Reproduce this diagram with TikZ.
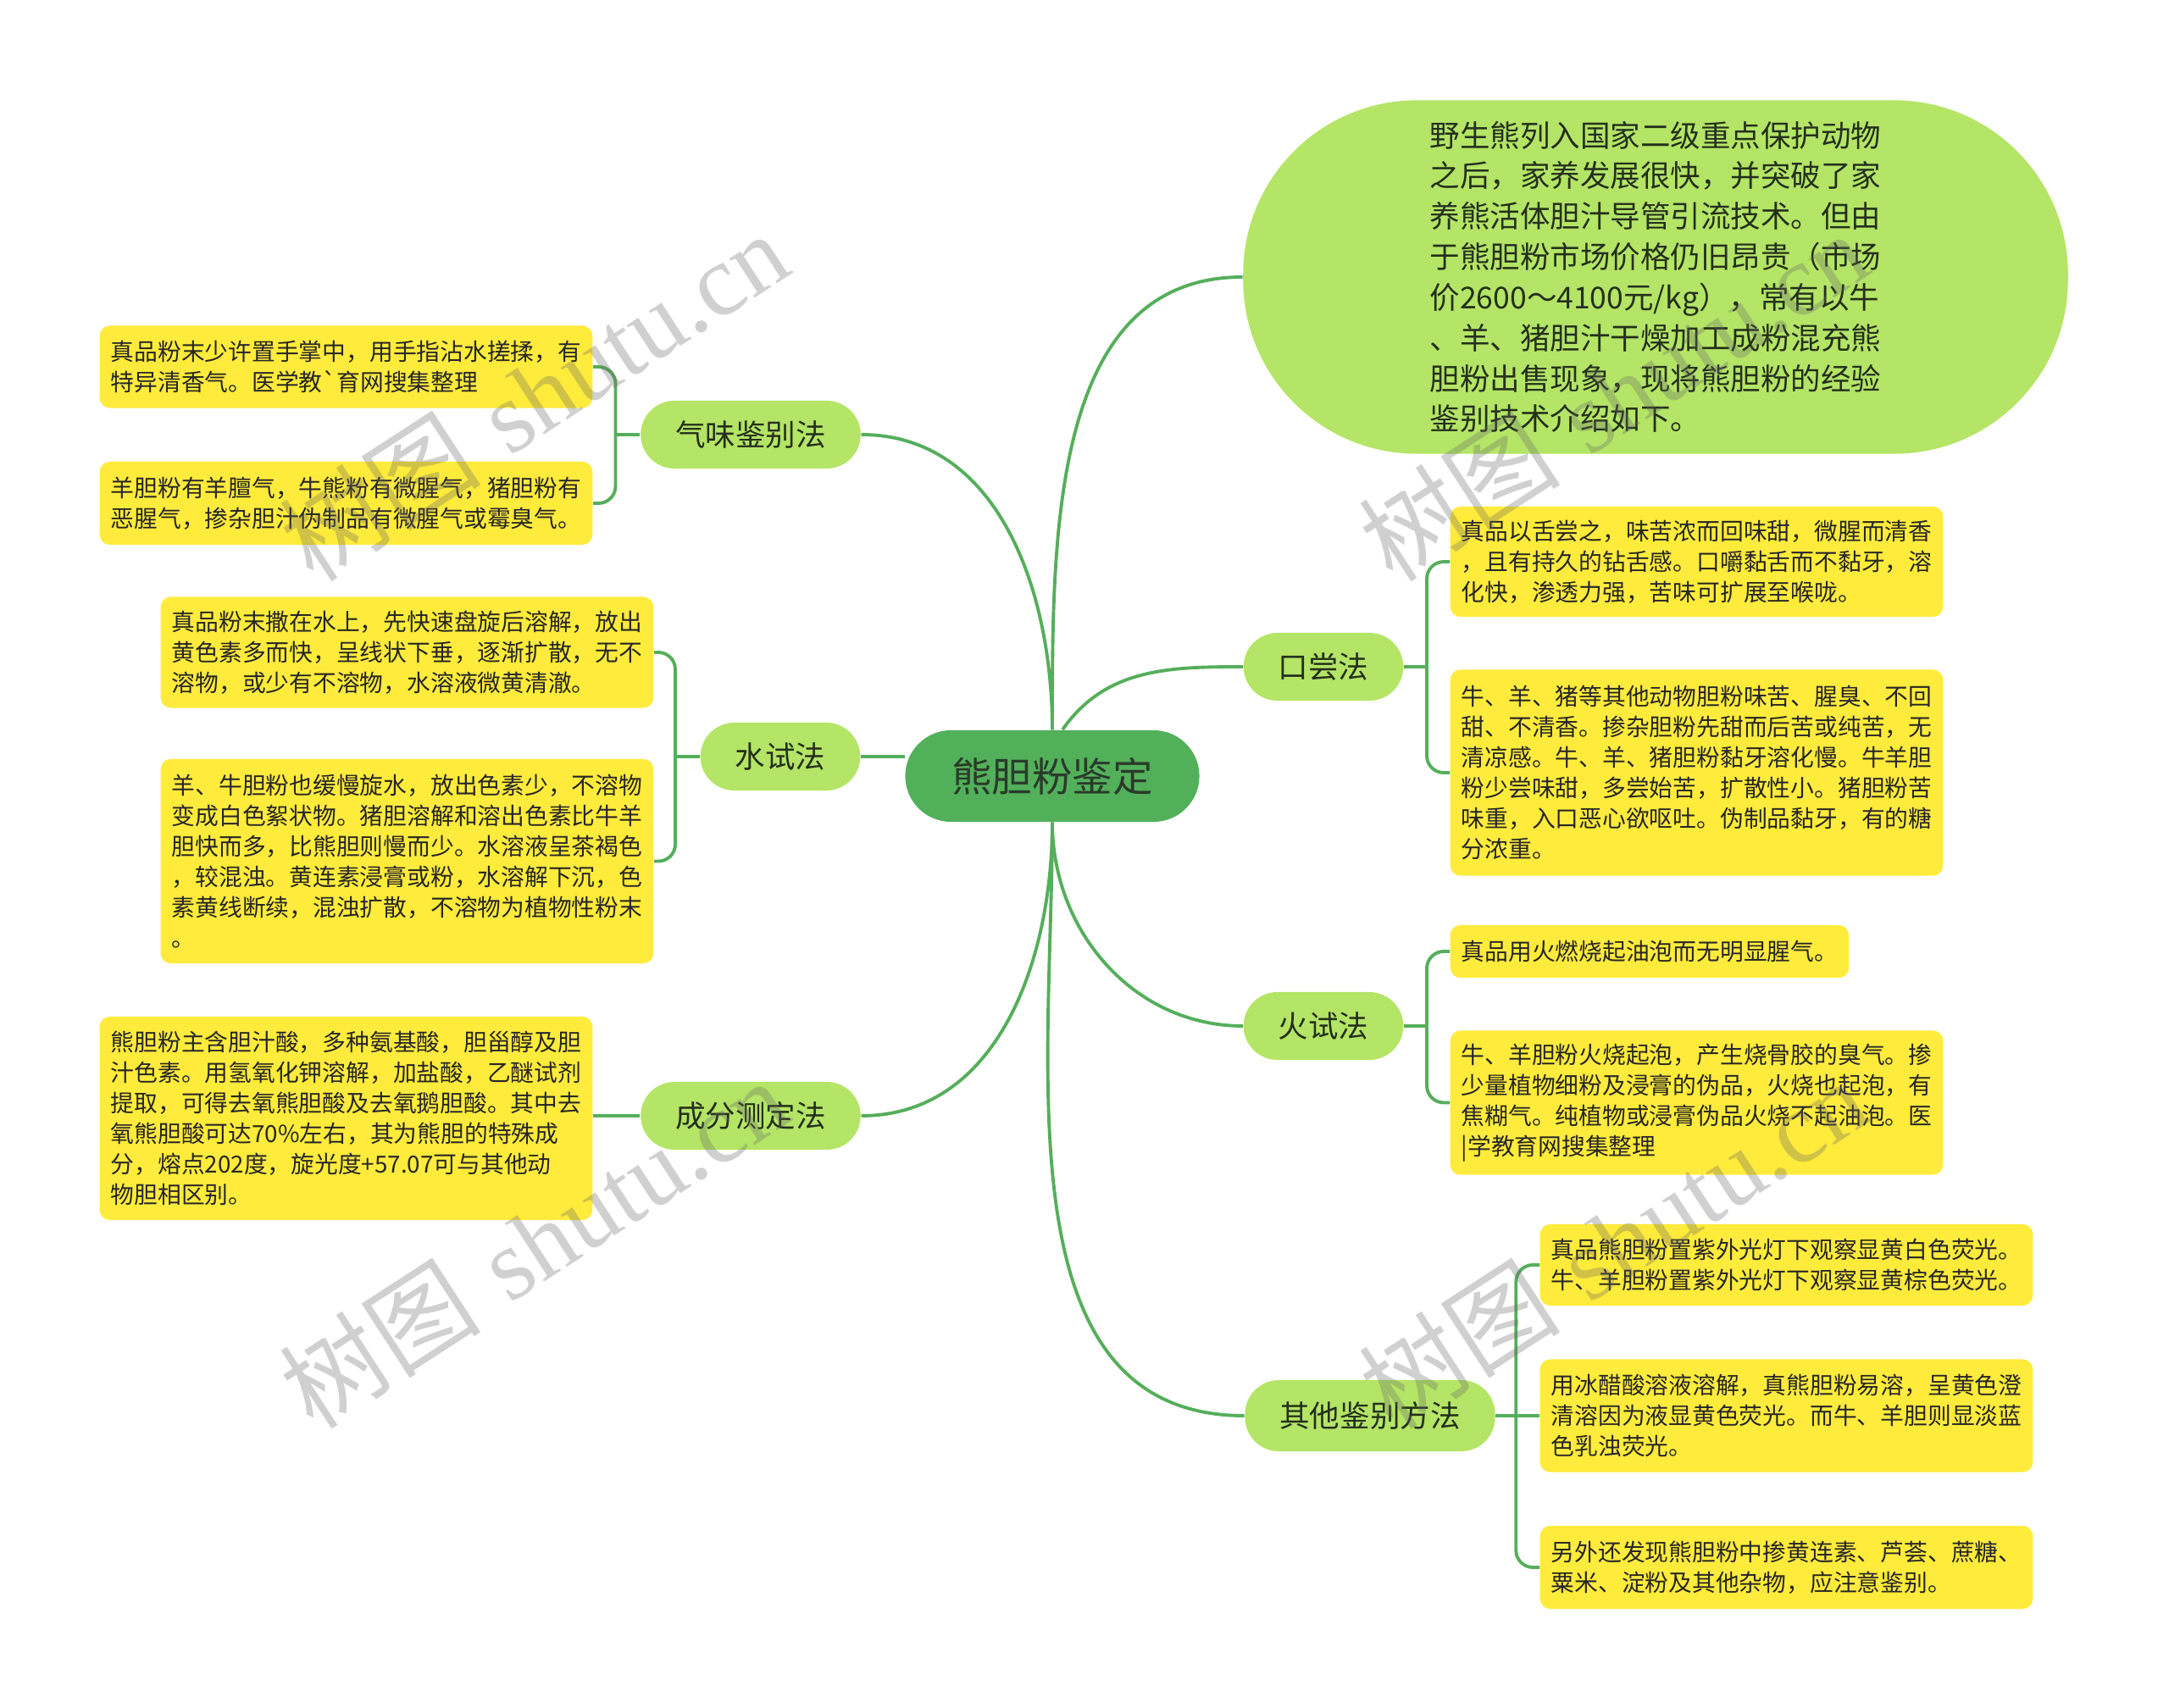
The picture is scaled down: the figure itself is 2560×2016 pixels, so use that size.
\documentclass[tikz,border=0pt]{standalone}
\usepackage{fontspec}
\newfontfamily\cjk{Noto Sans CJK SC}
\newfontfamily\wmserif{Liberation Serif}
\usetikzlibrary{positioning,calc}
\definecolor{rootgreen}{HTML}{52B05A}
\definecolor{topicgreen}{HTML}{B4E566}
\definecolor{leafyellow}{HTML}{FFEB3B}
\definecolor{linegreen}{HTML}{55AE5B}
\definecolor{inkroot}{HTML}{2A3A2A}
\definecolor{inktopic}{HTML}{25301C}
\definecolor{inkleaf}{HTML}{262626}
\tikzset{
  rootnode/.style={fill=rootgreen,rounded corners=0.54cm,minimum width=3.47cm,
            minimum height=1.08cm,font=\cjk\fontsize{13.5}{16}\selectfont,text=inkroot},
  topicnode/.style={fill=topicgreen,rounded corners=0.4cm,minimum height=0.8cm,
            inner xsep=0.41cm,font=\cjk\fontsize{10.1}{12}\selectfont,text=inktopic},
  introbox/.style={fill=topicgreen,rounded corners=2.05cm,minimum width=9.73cm,
            minimum height=4.17cm,align=left,font=\cjk\fontsize{10.1}{13.6}\selectfont,text=inktopic},
  leafbox/.style={fill=leafyellow,rounded corners=0.12cm,inner xsep=0.13cm,inner ysep=0.06cm,
            align=left,font=\cjk\fontsize{7.9}{10.2}\selectfont,text=inkleaf},
  conn/.style={draw=linegreen,line width=1.1pt},
  wmark/.style={font=\fontsize{34}{34}\selectfont,text=black!60,text opacity=0.3,
            rotate=33,anchor=base west,inner sep=0pt},
}

\begin{document}
\begin{tikzpicture}[x=0.01cm,y=-0.01cm]
  \fill[white] (0,0) rectangle (2560,2016);
  \useasboundingbox (0,0) rectangle (2560,2016);

  % centre and main topics
  \node[rootnode] (root) at (1242,916) {熊胆粉鉴定};
  \node[topicnode] (qiwei) at (886,513) {气味鉴别法};
  \node[topicnode] (shuishi) at (921,893) {水试法};
  \node[topicnode] (chengfen) at (886,1317) {成分测定法};
  \node[topicnode] (kouchang) at (1562,787) {口尝法};
  \node[topicnode] (huoshi) at (1562,1211) {火试法};
  \node[topicnode,minimum height=0.84cm] (qita) at (1617,1671) {其他鉴别方法};
  \node[introbox] (intro) at (1954,327)
       {野生熊列入国家二级重点保护动物\\之后，家养发展很快，并突破了家\\
        养熊活体胆汁导管引流技术。但由\\于熊胆粉市场价格仍旧昂贵（市场\\
        价2600～4100元/kg），常有以牛\\、羊、猪胆汁干燥加工成粉混充熊\\
        胆粉出售现象，现将熊胆粉的经验\\鉴别技术介绍如下。};

  % left leaves
  \node[leafbox,minimum height=0.97cm,anchor=east] (qw1) at (700,433)
       {真品粉末少许置手掌中，用手指沾水搓揉，有\\特异清香气。医学教`育网搜集整理};
  \node[leafbox,minimum height=0.98cm,below=0.62cm of qw1] (qw2)
       {羊胆粉有羊膻气，牛熊粉有微腥气，猪胆粉有\\恶腥气，掺杂胆汁伪制品有微腥气或霉臭气。};
  \node[leafbox,minimum height=1.31cm,anchor=east] (ss1) at (772,770)
       {真品粉末撒在水上，先快速盘旋后溶解，放出\\黄色素多而快，呈线状下垂，逐渐扩散，无不\\
        溶物，或少有不溶物，水溶液微黄清澈。};
  \node[leafbox,minimum height=2.41cm,below=0.59cm of ss1] (ss2)
       {羊、牛胆粉也缓慢旋水，放出色素少，不溶物\\变成白色絮状物。猪胆溶解和溶出色素比牛羊\\
        胆快而多，比熊胆则慢而少。水溶液呈茶褐色\\，较混浊。黄连素浸膏或粉，水溶解下沉，色\\
        素黄线断续，混浊扩散，不溶物为植物性粉末\\。};
  \node[leafbox,minimum height=2.40cm,anchor=east] (cf1) at (700,1320)
       {熊胆粉主含胆汁酸，多种氨基酸，胆甾醇及胆\\汁色素。用氢氧化钾溶解，加盐酸，乙醚试剂\\
        提取，可得去氧熊胆酸及去氧鹅胆酸。其中去\\氧熊胆酸可达70\%左右，其为熊胆的特殊成\\
        分，熔点202度，旋光度+57.07可与其他动\\物胆相区别。};

  % right leaves
  \node[leafbox,minimum height=1.30cm,anchor=west] (kc1) at (1711,663)
       {真品以舌尝之，味苦浓而回味甜，微腥而清香\\，且有持久的钻舌感。口嚼黏舌而不黏牙，溶\\
        化快，渗透力强，苦味可扩展至喉咙。};
  \node[leafbox,minimum height=2.43cm,below=0.61cm of kc1] (kc2)
       {牛、羊、猪等其他动物胆粉味苦、腥臭、不回\\甜、不清香。掺杂胆粉先甜而后苦或纯苦，无\\
        清凉感。牛、羊、猪胆粉黏牙溶化慢。牛羊胆\\粉少尝味甜，多尝始苦，扩散性小。猪胆粉苦\\
        味重，入口恶心欲呕吐。伪制品黏牙，有的糖\\分浓重。};
  \node[leafbox,minimum height=0.62cm,anchor=west] (hs1) at (1711,1123)
       {真品用火燃烧起油泡而无明显腥气。};
  \node[leafbox,minimum height=1.70cm,below=0.61cm of hs1.south west,anchor=north west] (hs2)
       {牛、羊胆粉火烧起泡，产生烧骨胶的臭气。掺\\少量植物细粉及浸膏的伪品，火烧也起泡，有\\
        焦糊气。纯植物或浸膏伪品火烧不起油泡。医\\|学教育网搜集整理};
  \node[leafbox,minimum height=0.96cm,anchor=west] (qt1) at (1817,1493)
       {真品熊胆粉置紫外光灯下观察显黄白色荧光。\\牛、羊胆粉置紫外光灯下观察显黄棕色荧光。};
  \node[leafbox,minimum height=1.33cm,below=0.62cm of qt1] (qt2)
       {用冰醋酸溶液溶解，真熊胆粉易溶，呈黄色澄\\清溶因为液显黄色荧光。而牛、羊胆则显淡蓝\\
        色乳浊荧光。};
  \node[leafbox,minimum height=0.98cm,below=0.62cm of qt2] (qt3)
       {另外还发现熊胆粉中掺黄连素、芦荟、蔗糖、\\粟米、淀粉及其他杂物，应注意鉴别。};

  % root to topics
  \draw[conn] (qiwei.east) to[out=0,in=90] (root.north);
  \draw[conn] (root.north) to[out=90,in=180] (intro.west);
  \draw[conn] ([xshift=0.12cm]root.north) to[out=55,in=180] (kouchang.west);
  \draw[conn] (shuishi.east) -- (shuishi.east -| root.west);
  \draw[conn] (root.south) to[out=-90,in=0] (chengfen.east);
  \draw[conn] (root.south) to[out=-90,in=180] (huoshi.west);
  \draw[conn] (root.south) to[out=-90,in=180] (qita.west);

  % topics to leaves
  \coordinate (qwj) at ($(qiwei.west)+(-29,0)$);
  \coordinate (ssj) at ($(shuishi.west)+(-29,0)$);
  \coordinate (kcj) at ($(kouchang.east)+(27,0)$);
  \coordinate (hsj) at ($(huoshi.east)+(27,0)$);
  \coordinate (qtj) at ($(qita.east)+(24,0)$);
  \draw[conn] (qiwei.west) -- (qwj);
  \draw[conn] (shuishi.west) -- (ssj);
  \draw[conn] (kouchang.east) -- (kcj);
  \draw[conn] (huoshi.east) -- (hsj);
  \draw[conn] (qita.east) -- (qtj) -- (qtj -| qt2.west);
  \draw[conn] (chengfen.west) -- (chengfen.west -| cf1.east);
  \foreach \n in {qw1,qw2} \draw[conn,rounded corners=0.2cm] (\n.east) -| (qwj);
  \foreach \n in {ss1,ss2} \draw[conn,rounded corners=0.2cm] (\n.east) -| (ssj);
  \foreach \n in {kc1,kc2} \draw[conn,rounded corners=0.2cm] (\n.west) -| (kcj);
  \foreach \n in {hs1,hs2} \draw[conn,rounded corners=0.2cm] (\n.west) -| (hsj);
  \foreach \n in {qt1,qt3} \draw[conn,rounded corners=0.2cm] (\n.west) -| (qtj);

  % watermarks
  \node[wmark] (wm1) at (370,690) {{\cjk 树图} {\wmserif shutu.cn}};
  \node[wmark] (wm2) at (1644,690) {{\cjk 树图} {\wmserif shutu.cn}};
  \node[wmark] (wm3) at (370,1690) {{\cjk 树图} {\wmserif shutu.cn}};
  \node[wmark] (wm4) at (1644,1690) {{\cjk 树图} {\wmserif shutu.cn}};
\end{tikzpicture}
\end{document}
